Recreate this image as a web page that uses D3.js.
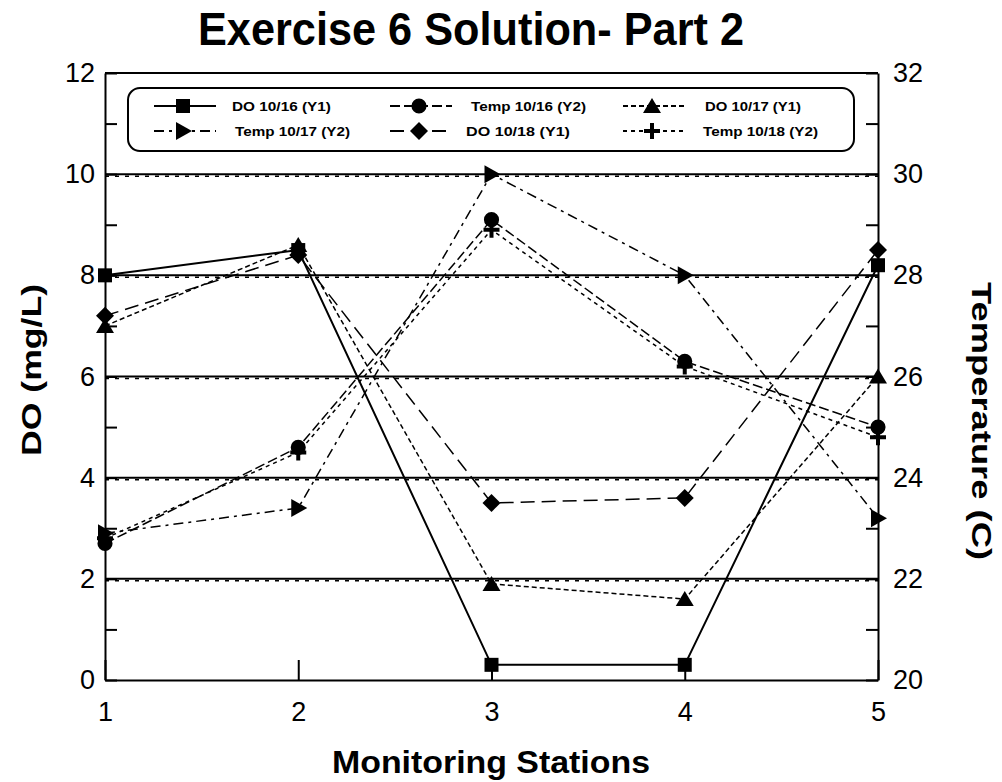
<!DOCTYPE html>
<html>
<head>
<meta charset="utf-8">
<script src="https://cdn.jsdelivr.net/npm/d3@7"></script>
<style>
  html, body { margin: 0; padding: 0; background: #fff; }
  svg { display: block; font-family: "Liberation Sans", Arial, sans-serif; }
</style>
</head>
<body>
<svg id="chart" width="1002" height="782"></svg>
<script>
// Monitoring stations along the x axis
const stations = [1, 2, 3, 4, 5];

// Dissolved oxygen, mg/L (left axis)
const do1016 = [8.0, 8.5, 0.3, 0.3, 8.2];
const do1017 = [7.0, 8.6, 1.9, 1.6, 6.0];
const do1018 = [7.2, 8.4, 3.5, 3.6, 8.5];

// Water temperature, degrees C (right axis)
const temp1016 = [22.7, 24.6, 29.1, 26.3, 25.0];
const temp1017 = [22.9, 23.4, 30.0, 28.0, 23.2];
const temp1018 = [22.8, 24.5, 28.9, 26.2, 24.8];

// Tick values
const leftTicks = [0, 2, 4, 6, 8, 10, 12];
const rightTicks = [20, 22, 24, 26, 28, 30, 32];

const seriesNames = ["DO 10/16 (Y1)", "Temp 10/16 (Y2)", "DO 10/17 (Y1)",
                     "Temp 10/17 (Y2)", "DO 10/18 (Y1)", "Temp 10/18 (Y2)"];

const svg = d3.select("#chart");

const plot = { left: 105, right: 878, top: 73, bottom: 680 };

const x = d3.scaleLinear().domain([1, 5]).range([plot.left, plot.right]);
const yL = d3.scaleLinear().domain([0, 12]).range([plot.bottom, plot.top]);
const yR = d3.scaleLinear().domain([20, 32]).range([plot.bottom, plot.top]);

// Marker shapes, centred on (0,0)
const markerPaths = {
  square: "M-7,-7H7V7H-7Z",
  circle: d3.symbol(d3.symbolCircle, 180)(),
  triangle: "M0,-8L9,7H-9Z",
  rtriangle: "M-7,-9L9,0L-7,9Z",
  diamond: "M0,-9L9,0L0,9L-9,0Z",
  cross: "M-2,-8H2V-2H8V2H2V8H-2V2H-8V-2H-2Z"
};

const series = [
  { name: seriesNames[0], values: do1016,   y: yL, marker: "square",    dash: null,          width: 2 },
  { name: seriesNames[1], values: temp1016, y: yR, marker: "circle",    dash: "10,4",        width: 1.5 },
  { name: seriesNames[2], values: do1017,   y: yL, marker: "triangle",  dash: "5,3",         width: 1.5 },
  { name: seriesNames[3], values: temp1017, y: yR, marker: "rtriangle", dash: "10,5,3,5",    width: 1.5 },
  { name: seriesNames[4], values: do1018,   y: yL, marker: "diamond",   dash: "14,7",        width: 1.5 },
  { name: seriesNames[5], values: temp1018, y: yR, marker: "cross",     dash: "4,4",         width: 1.5 }
];

// Horizontal gridlines (solid rule with a dotted shadow beneath)
const grid = svg.append("g");
grid.selectAll("line.main").data([2, 4, 6, 8, 10, 12]).join("line")
  .attr("x1", plot.left).attr("x2", plot.right)
  .attr("y1", d => yL(d)).attr("y2", d => yL(d))
  .attr("stroke", "#000").attr("stroke-width", 2);
grid.selectAll("line.shadow").data([2, 4, 6, 8, 10]).join("line")
  .attr("x1", plot.left).attr("x2", plot.right)
  .attr("y1", d => yL(d) + 2).attr("y2", d => yL(d) + 2)
  .attr("stroke", "#000").attr("stroke-width", 1.5)
  .attr("stroke-dasharray", "4,6");

// Axes
const axisStyle = g => {
  g.select(".domain").attr("stroke", "#000").attr("stroke-width", 2);
  g.selectAll(".tick line").attr("stroke", "#000").attr("stroke-width", 2);
  g.selectAll(".tick text").attr("fill", "#000")
    .style("font-family", "'Liberation Sans', Arial, sans-serif")
    .style("font-size", "27px");
};

svg.append("g")
  .attr("transform", `translate(${plot.left},0)`)
  .call(d3.axisLeft(yL).tickValues(d3.range(0, 13)).tickSize(-12).tickSizeOuter(0)
        .tickFormat(d => leftTicks.includes(d) ? d : "").tickPadding(10))
  .call(axisStyle);

svg.append("g")
  .attr("transform", `translate(${plot.right},0)`)
  .call(d3.axisRight(yR).tickValues(d3.range(20, 33)).tickSize(-12).tickSizeOuter(0)
        .tickFormat(d => rightTicks.includes(d) ? d : "").tickPadding(15))
  .call(axisStyle);

svg.append("g")
  .attr("transform", `translate(0,${plot.bottom})`)
  .call(d3.axisBottom(x).tickValues(stations).tickSize(-20).tickSizeOuter(0)
        .tickFormat(d3.format("d")))
  .call(axisStyle)
  .call(g => g.selectAll(".tick text").attr("dy", "0.71em").attr("y", 22));

// Series lines
const lineGen = s => d3.line().x((d, i) => x(stations[i])).y(d => s.y(d));
const lines = svg.append("g");
series.forEach(s => {
  lines.append("path")
    .attr("d", lineGen(s)(s.values))
    .attr("fill", "none")
    .attr("stroke", "#000")
    .attr("stroke-width", s.width)
    .attr("stroke-dasharray", s.dash);
});

// Series markers
const markers = svg.append("g");
series.forEach(s => {
  markers.selectAll(null).data(s.values).join("path")
    .attr("d", markerPaths[s.marker])
    .attr("transform", (d, i) => `translate(${x(stations[i])},${s.y(d)})`)
    .attr("fill", "#000");
});

// Legend
const legend = svg.append("g");
legend.append("rect")
  .attr("x", 128).attr("y", 88).attr("width", 726).attr("height", 63)
  .attr("rx", 12).attr("ry", 12)
  .attr("fill", "#fff").attr("stroke", "#000").attr("stroke-width", 2);

const legCols = [154, 390, 623];
const legTextX = [[232, 471, 705], [235, 466, 703]];
const legTextW = [[99, 115, 96], [115, 104, 115]];
const legRows = [106, 131];
series.forEach((s, i) => {
  const r = Math.floor(i / 3), c = i % 3;
  const lx = legCols[c], ly = legRows[r];
  legend.append("line")
    .attr("x1", lx).attr("x2", lx + 62).attr("y1", ly).attr("y2", ly)
    .attr("stroke", "#000").attr("stroke-width", 2)
    .attr("stroke-dasharray", s.dash);
  legend.append("path")
    .attr("d", markerPaths[s.marker])
    .attr("transform", `translate(${lx + 29},${ly})`)
    .attr("fill", "#000");
  legend.append("text")
    .attr("x", legTextX[r][c]).attr("y", ly + 5)
    .attr("textLength", legTextW[r][c]).attr("lengthAdjust", "spacingAndGlyphs")
    .style("font-size", "13px").style("font-weight", "bold")
    .text(s.name);
});

// Titles
svg.append("text")
  .attr("x", 471).attr("y", 45).attr("text-anchor", "middle")
  .attr("textLength", 546).attr("lengthAdjust", "spacingAndGlyphs")
  .style("font-size", "46px").style("font-weight", "bold")
  .text("Exercise 6 Solution- Part 2");

svg.append("text")
  .attr("x", 491).attr("y", 773).attr("text-anchor", "middle")
  .attr("textLength", 318).attr("lengthAdjust", "spacingAndGlyphs")
  .style("font-size", "31px").style("font-weight", "bold")
  .text("Monitoring Stations");

svg.append("text")
  .attr("transform", "translate(41,370) rotate(-90)")
  .attr("text-anchor", "middle")
  .attr("textLength", 172).attr("lengthAdjust", "spacingAndGlyphs")
  .style("font-size", "28px").style("font-weight", "bold")
  .text("DO (mg/L)");

svg.append("text")
  .attr("transform", "translate(972,421) rotate(90)")
  .attr("text-anchor", "middle")
  .attr("textLength", 278).attr("lengthAdjust", "spacingAndGlyphs")
  .style("font-size", "28px").style("font-weight", "bold")
  .text("Temperature (C)");
</script>
</body>
</html>
